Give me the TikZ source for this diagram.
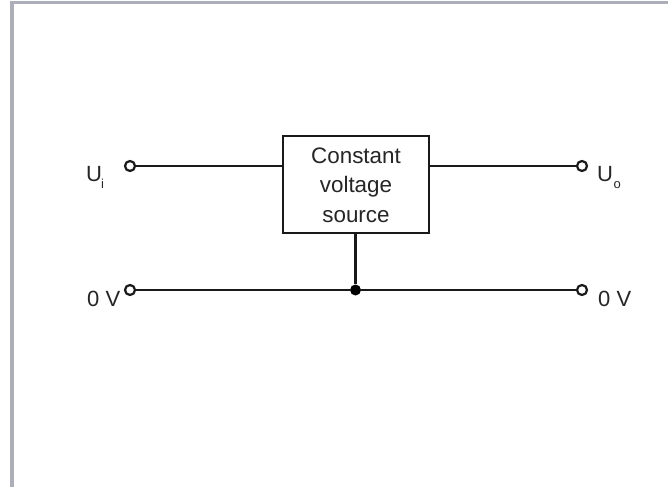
\documentclass[tikz,border=0pt]{standalone}
\usepackage{fontspec}
\setmainfont{Liberation Sans}
\tikzset{
  wire/.style={line width=2.2bp,draw=black!90},
  terminal/.style={circle,draw=black!90,fill=white,line width=2.2bp,minimum size=10bp,inner sep=0pt},
  junction/.style={circle,fill=black,minimum size=11bp,inner sep=0pt},
  block/.style={rectangle,draw=black!90,line width=2.2bp,minimum width=146bp,minimum height=97bp,inner sep=0pt},
  blocktext/.style={inner sep=0pt,align=center,font=\fontsize{22.4bp}{29.5bp}\selectfont,text=black!85},
  lab/.style={inner sep=0pt,font=\fontsize{22bp}{26bp}\selectfont,text=black!85},
  sub/.style={inner sep=0pt,font=\fontsize{13bp}{15bp}\selectfont,text=black!85}
}
\definecolor{frame}{RGB}{172,174,184}
\begin{document}
\begin{tikzpicture}[x=1bp,y=-1bp]
\useasboundingbox (0,0) rectangle (668,487);
\fill[white] (0,0) rectangle (668,487);
\fill[frame] (10,1) rectangle (668,4.5);
\fill[frame] (10,1) rectangle (14,487);
\node[block] (src) at (356,184.5) {};
\node[blocktext] (srctext) at (356,185) {Constant\\voltage\\source};
\node[terminal] (inT) at (130,166) {};
\node[terminal] (outT) at (582,166) {};
\node[terminal] (gndL) at (130,290) {};
\node[terminal] (gndR) at (582,290) {};
\node[junction] (jn) at (355.5,290) {};
\coordinate (srcL) at (src.west |- inT);
\coordinate (srcR) at (src.east |- outT);
\coordinate (srcB) at (src.south -| jn);
\draw[wire] (inT) -- (srcL);
\draw[wire] (srcR) -- (outT);
\draw[wire] (gndL) -- (jn);
\draw[wire] (jn) -- (gndR);
\draw[wire] (srcB) -- (jn);
\node[lab,anchor=base west] (ui) at (86,182) {U};
\node[sub,anchor=base west] (uisub) at (101,189) {i};
\node[lab,anchor=base west] (uo) at (597,182) {U};
\node[sub,anchor=base west] (uosub) at (613.5,189) {o};
\node[lab,anchor=base west] (zl) at (87,306) {0 V};
\node[lab,anchor=base west] (zr) at (598,306) {0 V};
\end{tikzpicture}
\end{document}
